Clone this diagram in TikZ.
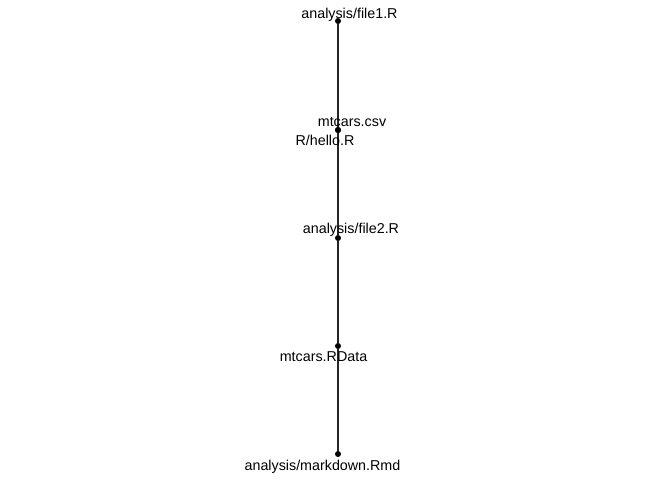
\documentclass[tikz,border=0pt]{standalone}
\usepackage{fontspec}
\setmainfont{Liberation Sans}
\usetikzlibrary{calc}

\begin{document}
\begin{tikzpicture}[x=1pt,y=-1pt,
                    dep/.style={line width=1.2pt,black!85},
                    file dot/.style={circle,fill=black,inner sep=0pt,minimum size=6pt},
                    file label/.style={anchor=base,font=\fontsize{14.3}{16}\selectfont,inner sep=0pt}]
    \useasboundingbox (0,0) rectangle (672,480);

    \node[file dot] (file1) at (338,21) {};
    \node[file dot] (csv) at (338,130) {};
    \node[file dot] (hello) at (338,130) {};
    \node[file dot] (file2) at (338,238) {};
    \node[file dot] (rdata) at (338,346) {};
    \node[file dot] (rmd) at (338,454) {};

    \draw[dep] (file1) -- (csv);
    \draw[dep] (file1) -- (hello);
    \draw[dep] (csv) -- (file2);
    \draw[dep] (hello) -- (file2);
    \draw[dep] (file2) -- (rdata);
    \draw[dep] (rdata) -- (rmd);

    \node[file label] (file1 label) at (349.5,18) {analysis/file1.R};
    \node[file label] (csv label) at (352,126) {mtcars.csv};
    \node[file label] (hello label) at (325,145) {R/hello.R};
    \node[file label] (file2 label) at (351,233) {analysis/file2.R};
    \node[file label] (rdata label) at (323.5,361) {mtcars.RData};
    \node[file label] (rmd label) at (322.5,470) {analysis/markdown.Rmd};
\end{tikzpicture}
\end{document}
